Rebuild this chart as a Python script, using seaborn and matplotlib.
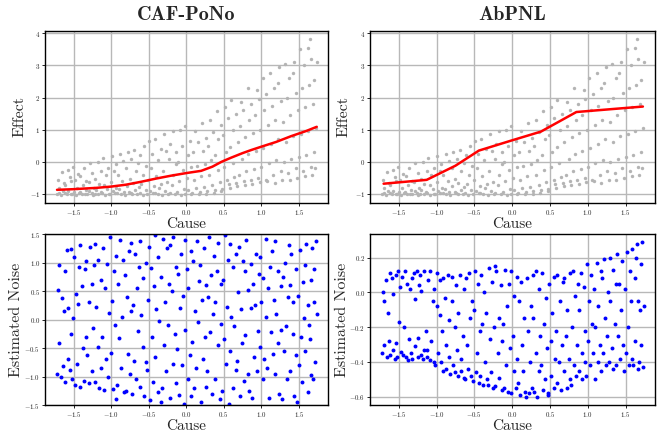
import matplotlib
matplotlib.use("Agg")
import matplotlib.pyplot as plt
import seaborn as sns
import pandas as pd

# ---- data ----
cause = [
 -1.72,-1.71,-1.70,-1.69,-1.67,-1.66,-1.64,-1.63,
 -1.62,-1.61,-1.59,-1.58,-1.57,-1.55,-1.54,-1.53,
 -1.52,-1.51,-1.50,-1.48,-1.47,-1.46,-1.44,-1.43,
 -1.42,-1.41,-1.39,-1.38,-1.36,-1.35,-1.34,-1.33,
 -1.32,-1.30,-1.29,-1.28,-1.26,-1.25,-1.24,-1.23,
 -1.22,-1.21,-1.20,-1.18,-1.17,-1.16,-1.14,-1.13,
 -1.12,-1.11,-1.09,-1.08,-1.07,-1.05,-1.04,-1.03,
 -1.02,-1.00,-0.99,-0.98,-0.96,-0.95,-0.94,-0.93,
 -0.92,-0.91,-0.89,-0.88,-0.87,-0.85,-0.84,-0.83,
 -0.82,-0.80,-0.79,-0.78,-0.76,-0.75,-0.74,-0.73,
 -0.72,-0.71,-0.69,-0.68,-0.67,-0.65,-0.64,-0.63,
 -0.62,-0.61,-0.60,-0.58,-0.57,-0.56,-0.54,-0.53,
 -0.52,-0.51,-0.49,-0.48,-0.47,-0.45,-0.44,-0.43,
 -0.42,-0.41,-0.40,-0.38,-0.37,-0.36,-0.34,-0.33,
 -0.32,-0.31,-0.29,-0.28,-0.27,-0.25,-0.24,-0.23,
 -0.22,-0.21,-0.19,-0.18,-0.17,-0.15,-0.14,-0.13,
 -0.12,-0.11,-0.10,-0.08,-0.07,-0.06,-0.04,-0.03,
 -0.02,-0.01,0.01,0.02,0.03,0.05,0.06,0.07,
 0.08,0.09,0.11,0.12,0.13,0.15,0.16,0.17,
 0.18,0.20,0.21,0.22,0.24,0.25,0.26,0.27,
 0.28,0.29,0.31,0.32,0.33,0.35,0.36,0.37,
 0.38,0.39,0.41,0.42,0.43,0.45,0.46,0.47,
 0.48,0.49,0.51,0.52,0.53,0.55,0.56,0.57,
 0.58,0.59,0.60,0.62,0.63,0.64,0.66,0.67,
 0.68,0.69,0.71,0.72,0.73,0.75,0.76,0.77,
 0.78,0.79,0.80,0.82,0.83,0.84,0.86,0.87,
 0.88,0.89,0.91,0.92,0.93,0.95,0.96,0.97,
 0.98,0.99,1.00,1.02,1.03,1.04,1.06,1.07,
 1.08,1.09,1.10,1.12,1.13,1.14,1.16,1.17,
 1.18,1.19,1.20,1.22,1.23,1.24,1.26,1.27,
 1.28,1.29,1.30,1.32,1.33,1.34,1.36,1.37,
 1.38,1.39,1.40,1.42,1.43,1.44,1.46,1.47,
 1.48,1.49,1.50,1.52,1.53,1.54,1.56,1.57,
 1.58,1.59,1.60,1.62,1.63,1.64,1.66,1.67,
 1.65,1.68,1.69,1.70,1.71,1.72,1.73,1.74,
]
effect = [
 -1.01,-0.55,-0.97,-0.80,-1.02,-0.33,-0.92,-0.66,
 -0.98,-0.71,-1.01,-0.25,-0.90,-0.48,-0.99,-0.60,
 -1.00,-0.15,-0.93,-0.58,-1.02,-0.82,-0.38,-0.96,
 -0.95,-0.45,-1.01,-0.72,-0.20,-0.99,-0.87,-0.60,
 -1.00,-0.62,-0.91,-0.05,-0.97,-0.35,-1.02,-0.80,
 -0.99,-0.52,-0.88,-0.02,-1.01,-0.70,-0.94,-0.28,
 -0.96,0.12,-0.73,-1.02,-0.42,-0.86,-0.18,-0.99,
 -1.01,-0.64,0.18,-0.90,-0.30,-0.97,-0.08,-0.80,
 -0.98,-0.40,-0.85,0.25,-1.00,-0.60,0.02,-0.93,
 -1.02,-0.20,-0.76,0.30,-0.95,-0.52,-0.98,0.08,
 -0.99,-0.66,0.38,-0.89,-0.28,-1.01,-0.05,-0.78,
 -0.96,0.20,-0.70,-1.02,-0.40,0.50,-0.88,-0.12,
 -1.00,-0.55,0.65,-0.92,-0.18,0.25,-0.98,-0.75,
 -0.97,0.72,-0.45,-1.01,0.05,-0.82,0.40,-0.68,
 -1.02,-0.30,0.88,-0.90,0.35,-0.62,-0.99,0.10,
 -0.98,0.55,-0.72,0.95,-0.40,-1.01,-0.08,0.30,
 -0.95,0.00,-0.60,1.00,-1.02,0.48,-0.25,-0.85,
 -0.99,1.12,-0.50,0.20,-0.88,0.65,-0.15,-1.01,
 -0.96,0.30,-0.55,0.95,-0.82,-0.12,0.62,-1.00,
 -0.93,-0.45,1.20,0.35,-0.78,-0.08,0.75,-1.00,
 -0.90,0.48,-0.40,1.30,0.05,-0.72,0.92,-0.98,
 -0.88,0.20,1.58,-0.25,0.70,-0.62,1.15,-0.92,
 -0.85,0.85,-0.15,1.72,0.30,-0.55,1.35,-0.70,
 -0.80,0.45,1.92,-0.05,0.98,-0.48,1.50,-0.65,
 -0.75,0.62,-0.40,1.10,1.85,0.10,1.62,-0.60,
 -0.72,0.78,-0.30,2.30,0.25,1.30,-0.55,1.80,
 -0.68,0.90,-0.22,1.45,0.35,2.25,-0.50,1.95,
 -0.62,1.00,-0.15,2.62,0.42,1.60,-0.58,2.10,
 -0.60,1.15,-0.05,2.75,0.55,1.75,-0.40,2.30,
 -0.65,1.30,0.05,2.45,0.70,2.95,-0.30,1.90,
 -0.58,1.25,0.00,3.05,0.62,1.98,-0.35,2.60,
 -0.55,1.45,0.10,2.75,0.80,3.12,-0.20,2.15,
 -0.50,1.60,0.15,3.50,0.88,2.30,-0.30,3.00,
 -0.45,1.70,0.22,3.55,0.95,2.40,-0.15,3.20,
 3.82,-0.42,1.80,0.30,2.55,-0.20,1.05,3.10,
]
noise_cafpono = [
 -0.95,0.52,-0.42,0.95,-1.00,0.38,-0.81,0.15,
 0.85,-1.10,1.22,-0.70,0.20,-0.88,1.24,-0.25,
 -1.05,0.02,1.10,-1.15,0.45,-0.78,0.28,0.92,
 1.30,-1.18,0.58,-0.50,-1.08,0.88,-0.30,1.02,
 -0.62,0.30,-1.12,1.28,-0.90,0.62,-0.15,0.95,
 1.32,-1.10,0.22,-0.48,1.05,-1.20,0.70,-0.85,
 -0.30,1.25,-1.23,0.55,-0.70,0.98,-1.00,0.12,
 1.45,-0.58,0.32,-1.22,0.85,-0.10,1.12,-1.40,
 -1.15,0.62,-0.32,1.40,-0.85,0.05,1.05,-1.28,
 0.78,-1.25,0.40,-0.60,1.20,-0.95,0.15,1.35,
 -1.30,0.25,-0.72,1.15,-1.05,0.55,-0.20,0.92,
 1.38,-1.18,0.08,-0.48,0.72,-1.35,1.00,-0.75,
 -0.88,0.35,1.28,-1.42,0.90,-0.30,-1.10,0.58,
 1.48,-0.65,0.18,-1.28,1.10,-0.02,0.75,-1.45,
 -1.20,1.42,-0.45,0.30,-0.90,1.25,-0.10,0.62,
 1.30,-1.38,0.50,-0.78,1.45,-0.25,0.92,-1.12,
 -0.52,0.80,-1.32,0.20,1.15,-0.80,0.42,-1.48,
 1.40,-0.18,0.88,-1.05,0.55,-0.62,1.20,-1.35,
 -0.40,1.02,-1.20,0.15,-0.85,1.38,-0.05,0.68,
 0.95,-1.45,0.35,-0.70,1.25,-0.30,-1.18,0.60,
 -0.90,0.40,1.45,-0.22,0.78,-1.30,0.10,1.12,
 0.30,-1.05,0.85,-0.45,1.35,-1.40,-0.08,0.62,
 -1.25,0.70,-0.35,1.48,-0.78,0.22,1.05,-1.48,
 1.32,-0.55,0.05,-1.20,0.92,-0.12,-0.88,1.15,
 -0.72,0.48,1.28,-1.35,0.18,-0.42,1.02,-1.08,
 0.85,-0.28,1.40,-0.95,0.52,-1.25,0.20,0.98,
 -1.38,0.62,-0.65,0.25,1.15,-0.90,-0.20,0.80,
 1.10,-0.48,0.30,-1.05,0.72,-0.70,1.42,0.05,
 -0.85,0.55,-1.38,0.92,-0.22,1.20,-0.60,0.35,
 1.38,-0.95,0.10,-0.42,0.85,-1.30,0.58,-0.18,
 -1.40,0.75,-0.55,1.00,-0.12,-1.05,0.40,1.30,
 0.60,-0.90,1.15,-0.25,0.30,-1.35,0.88,-0.62,
 -1.45,0.42,-0.80,1.22,-0.30,-1.10,0.65,0.02,
 0.95,-0.55,1.32,-1.28,0.25,-0.10,-0.98,0.70,
 -0.35,1.25,-1.05,0.30,0.88,-0.75,1.38,0.10,
]
noise_abpnl = [
 -0.35,0.00,-0.05,-0.30,0.07,-0.37,-0.12,-0.28,
 0.11,-0.36,0.08,-0.33,-0.01,-0.38,0.10,-0.29,
 -0.37,0.12,-0.17,0.03,-0.34,0.09,-0.36,-0.20,
 0.12,-0.37,0.05,-0.39,-0.27,0.02,-0.35,0.08,
 -0.38,0.11,-0.31,-0.04,0.12,-0.37,-0.26,0.04,
 0.10,-0.36,0.01,-0.38,-0.33,0.12,-0.22,-0.37,
 -0.33,0.07,-0.39,0.12,-0.28,-0.05,-0.40,0.02,
 -0.42,0.11,-0.08,-0.35,-0.13,0.07,-0.40,-0.22,
 0.08,-0.45,-0.03,-0.30,-0.44,0.10,-0.16,-0.37,
 -0.47,-0.05,0.09,-0.42,-0.20,-0.46,0.04,-0.33,
 -0.12,-0.48,0.10,-0.38,-0.45,-0.25,0.02,-0.49,
 -0.50,0.08,-0.30,-0.44,0.11,-0.15,-0.48,-0.05,
 -0.51,-0.10,0.12,-0.46,-0.35,0.05,-0.52,-0.22,
 -0.48,0.10,-0.18,-0.53,0.00,-0.40,-0.12,-0.50,
 -0.53,0.14,-0.27,-0.46,0.06,-0.55,-0.20,0.15,
 -0.54,0.12,-0.35,-0.15,-0.49,0.04,-0.56,-0.28,
 -0.18,-0.55,0.13,-0.42,-0.08,-0.57,0.05,-0.32,
 -0.58,0.12,-0.25,-0.45,-0.02,-0.55,0.09,-0.38,
 -0.52,-0.05,-0.59,0.06,-0.30,-0.45,-0.15,-0.57,
 -0.60,0.08,-0.22,-0.58,-0.40,-0.08,-0.55,0.10,
 -0.15,-0.57,0.12,-0.35,-0.60,0.02,-0.45,-0.25,
 -0.42,0.11,-0.56,-0.18,-0.50,-0.03,-0.32,-0.59,
 -0.58,0.05,-0.28,-0.48,-0.12,0.09,-0.55,-0.38,
 -0.22,-0.52,0.10,-0.40,-0.05,-0.56,-0.30,0.06,
 -0.45,0.08,-0.25,-0.55,-0.10,-0.38,0.11,-0.50,
 -0.53,-0.20,0.12,-0.42,-0.02,-0.48,-0.30,0.05,
 -0.10,-0.45,0.11,-0.35,-0.50,0.03,-0.22,-0.40,
 -0.48,0.16,-0.28,-0.05,-0.42,0.10,-0.18,-0.35,
 0.02,-0.50,-0.20,0.17,-0.40,-0.08,-0.30,0.12,
 -0.45,0.08,-0.35,0.19,-0.15,-0.42,-0.25,0.00,
 -0.40,0.20,-0.05,-0.32,0.13,-0.44,-0.18,0.05,
 -0.42,0.22,-0.25,0.05,-0.38,-0.10,0.18,-0.30,
 -0.45,0.02,-0.35,0.23,-0.20,-0.42,0.12,-0.05,
 -0.38,0.25,-0.42,0.08,-0.28,0.20,-0.05,-0.44,
 0.28,-0.40,-0.10,0.16,-0.30,0.29,-0.43,-0.08,
]
# fitted curves (red)
caf_fit_x = [-1.72,-1.5,-1.2,-1.0,-0.8,-0.6,-0.4,-0.2,0.0,0.2,0.35,0.47,0.6,0.75,0.87,1.0,1.2,1.4,1.6,1.74]
caf_fit_y = [-0.87,-0.85,-0.81,-0.77,-0.71,-0.62,-0.52,-0.43,-0.35,-0.28,-0.15,0.0,0.13,0.27,0.37,0.47,0.62,0.80,0.96,1.09]
ab_fit_x = [-1.70,-1.13,-0.75,-0.44,0.00,0.38,0.85,1.73]
ab_fit_y = [-0.68,-0.56,-0.12,0.35,0.67,0.94,1.55,1.72]

titles = ["CAF-PoNo", "AbPNL"]

df = pd.DataFrame({"Cause": cause, "Effect": effect,
                   "NoiseCAF": noise_cafpono, "NoiseAb": noise_abpnl})
fit_caf = pd.DataFrame({"x": caf_fit_x, "y": caf_fit_y})
fit_ab = pd.DataFrame({"x": ab_fit_x, "y": ab_fit_y})

# ---- style ----
sns.set_style("whitegrid", {"axes.edgecolor": "black", "grid.color": "#b8b8b8",
                            "axes.linewidth": 1.0})
plt.rcParams["font.family"] = ["cmr10", "DejaVu Serif"]
plt.rcParams["mathtext.fontset"] = "cm"
plt.rcParams["axes.formatter.use_mathtext"] = True
plt.rcParams["axes.unicode_minus"] = True

fig = plt.figure(figsize=(6.57, 4.36), dpi=100)
W, H = 657, 436
def pos(l, t, r, b):
    return [l / W, 1 - b / H, (r - l) / W, (b - t) / H]

ax_tl = fig.add_axes(pos(45, 31, 328, 203))
ax_tr = fig.add_axes(pos(370, 31, 655, 203))
ax_bl = fig.add_axes(pos(45, 234, 328, 405))
ax_br = fig.add_axes(pos(370, 234, 655, 405))

for ax, fit in [(ax_tl, fit_caf), (ax_tr, fit_ab)]:
    sns.scatterplot(data=df, x="Cause", y="Effect", ax=ax, color="#b4b4b4",
                    s=6, linewidth=0, zorder=2)
    sns.lineplot(data=fit, x="x", y="y", ax=ax, color="red", lw=1.8,
                 sort=False, estimator=None, zorder=3)
    ax.set_ylim(-1.28, 4.07)
    ax.set_yticks([-1, 0, 1, 2, 3, 4])
    ax.set_ylabel("Effect", fontsize=11.5)

sns.scatterplot(data=df, x="Cause", y="NoiseCAF", ax=ax_bl, color="blue",
                s=8, linewidth=0, zorder=2)
ax_bl.set_ylim(-1.5, 1.5)
ax_bl.set_yticks([-1.5, -1.0, -0.5, 0.0, 0.5, 1.0, 1.5])

sns.scatterplot(data=df, x="Cause", y="NoiseAb", ax=ax_br, color="blue",
                s=8, linewidth=0, zorder=2)
ax_br.set_ylim(-0.647, 0.335)
ax_br.set_yticks([-0.6, -0.4, -0.2, 0.0, 0.2])

for ax in [ax_bl, ax_br]:
    ax.set_ylabel("Estimated Noise", fontsize=11.5)

ylab_x = {ax_tl: -0.067, ax_tr: -0.067, ax_bl: -0.078, ax_br: -0.074}
for ax in [ax_tl, ax_tr, ax_bl, ax_br]:
    ax.set_xlim(-1.88, 1.89)
    ax.set_xticks([-1.5, -1.0, -0.5, 0.0, 0.5, 1.0, 1.5])
    ax.set_xlabel("Cause", fontsize=11)
    ax.tick_params(axis="both", labelsize=5, length=2, width=0.6, pad=1.5,
                   left=True, bottom=True, color="black")
    ax.grid(True, color="#b8b8b8", lw=1.0)
    for sp in ax.spines.values():
        sp.set_color("black")
        sp.set_linewidth(1.0)
    ax.yaxis.set_label_coords(ylab_x[ax], 0.5)
    ax.xaxis.set_label_coords(0.5, -0.085)

for ax, t in zip([ax_tl, ax_tr], titles):
    ax.set_title(t, fontsize=14.5, family="cmb10", pad=8)

fig.savefig("out.png", dpi=100)
